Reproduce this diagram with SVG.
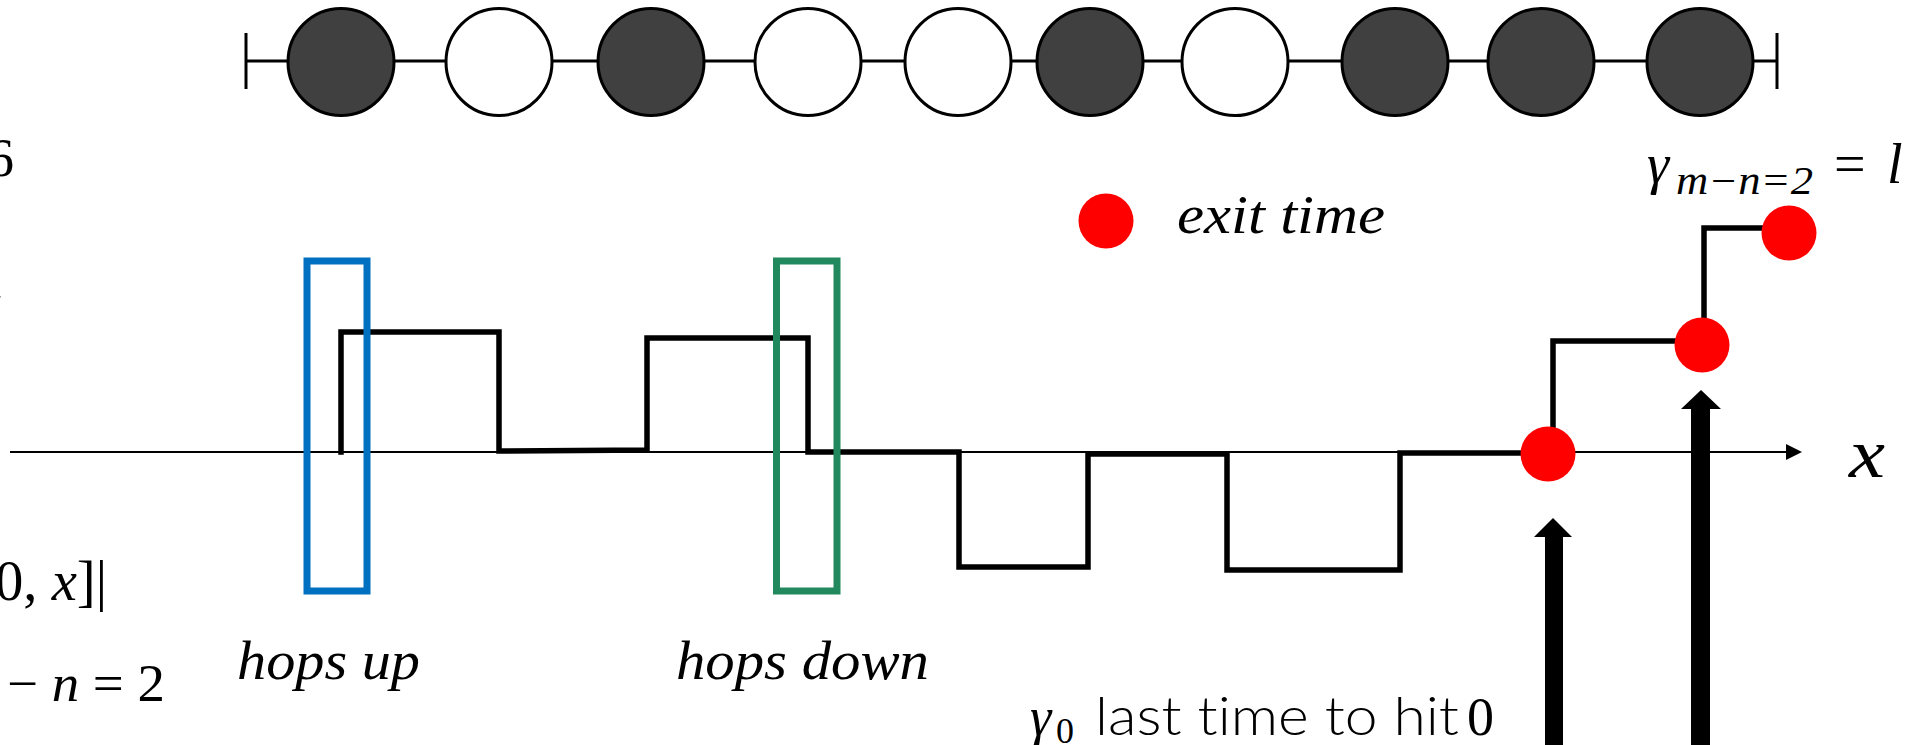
<svg xmlns="http://www.w3.org/2000/svg" width="1911" height="745" viewBox="0 0 1911 745">
  <defs>
    <style>
      .bead { stroke: #000; stroke-width: 3; }
      .dark { fill: #404040; }
      .light { fill: #fff; }
      .chain { stroke: #000; stroke-width: 3; fill: none; }
      .walk { stroke: #000; stroke-width: 5.5; fill: none; stroke-linejoin: miter; stroke-linecap: square; }
      .axis { stroke: #000; stroke-width: 2; fill: none; }
      .exit { fill: #ff0000; }
      .math { font-family: "Liberation Serif", "DejaVu Serif", serif; fill: #000; }
      .it { font-style: italic; }
      .sans { font-family: Lato, "Open Sans", sans-serif; font-weight: 300; fill: #000; font-variant-ligatures: none; }
      .pointer { fill: #000; }
    </style>
    <marker id="axisHead" viewBox="0 0 10 10" refX="0" refY="5" markerWidth="8" markerHeight="8" markerUnits="strokeWidth" orient="auto">
      <path d="M0,0 L10,5 L0,10 z" fill="#000"/>
    </marker>
  </defs>

  <!-- occupation chain -->
  <g id="chain">
    <line class="chain" x1="246" y1="61" x2="1777" y2="61"/>
    <line class="chain" x1="246" y1="33" x2="246" y2="89"/>
    <line class="chain" x1="1777" y1="33" x2="1777" y2="89"/>
  </g>
  <g id="site1"><ellipse class="bead dark" cx="341" cy="62" rx="53" ry="53.5"/></g>
  <g id="site2"><ellipse class="bead light" cx="499" cy="62" rx="53" ry="53.5"/></g>
  <g id="site3"><ellipse class="bead dark" cx="651" cy="62" rx="53" ry="53.5"/></g>
  <g id="site4"><ellipse class="bead light" cx="808" cy="62" rx="53" ry="53.5"/></g>
  <g id="site5"><ellipse class="bead light" cx="958" cy="62" rx="53" ry="53.5"/></g>
  <g id="site6"><ellipse class="bead dark" cx="1090" cy="62" rx="53" ry="53.5"/></g>
  <g id="site7"><ellipse class="bead light" cx="1235" cy="62" rx="53" ry="53.5"/></g>
  <g id="site8"><ellipse class="bead dark" cx="1395" cy="62" rx="53" ry="53.5"/></g>
  <g id="site9"><ellipse class="bead dark" cx="1541" cy="62" rx="53" ry="53.5"/></g>
  <g id="site10"><ellipse class="bead dark" cx="1700" cy="62" rx="53" ry="53.5"/></g>

  <!-- left margin labels -->
  <g id="left-labels">
    <text class="math" x="-13" y="176" font-size="54">6</text>
    <text class="math it" x="-15" y="320" font-size="52">t</text>
    <text class="math" x="-5" y="600" font-size="56" textLength="112" lengthAdjust="spacingAndGlyphs">0, <tspan class="it">x</tspan>]|</text>
    <text class="math" x="7" y="701" font-size="52" textLength="158" lengthAdjust="spacingAndGlyphs">− <tspan class="it">n</tspan> = 2</text>
  </g>

  <!-- time axis -->
  <g id="axis">
    <line class="axis" x1="10" y1="452" x2="1786" y2="452" marker-end="url(#axisHead)"/>
    <text class="math it" x="1849" y="477" font-size="70" textLength="36" lengthAdjust="spacingAndGlyphs">x</text>
  </g>

  <!-- connectors: walk trajectory and pointers -->
  <g id="connectors">
    <path class="walk" d="M341,452 V332 H499 V451 L647,450 V338 H808 V452 H959 V567 H1088 V454 H1227 V570 H1400 V453 H1548"/>
    <path class="walk" d="M1553,452 V341 H1702"/>
    <path class="walk" d="M1704,345 V228 H1789"/>
    <path class="pointer" d="M1553,518 L1572,537 L1563,537 L1563,745 L1545,745 L1545,537 L1534,537 z"/>
    <path class="pointer" d="M1701,390 L1721,409 L1710,409 L1710,745 L1691,745 L1691,409 L1681,409 z"/>
  </g>

  <!-- hop windows -->
  <g id="hops-up">
    <rect x="307" y="261" width="60" height="330" fill="none" stroke="#0070C0" stroke-width="7"/>
    <text class="math it" x="237" y="679" font-size="54" textLength="183" lengthAdjust="spacingAndGlyphs">hops up</text>
  </g>
  <g id="hops-down">
    <rect x="776.5" y="261" width="60.5" height="330" fill="none" stroke="#21895D" stroke-width="7"/>
    <text class="math it" x="676" y="679" font-size="54" textLength="253" lengthAdjust="spacingAndGlyphs">hops down</text>
  </g>

  <!-- exit times -->
  <g id="exit-legend">
    <circle class="exit" cx="1106" cy="221" r="27.5"/>
    <text class="math it" x="1177" y="233" font-size="54" textLength="208" lengthAdjust="spacingAndGlyphs">exit time</text>
  </g>
  <g id="exit0"><circle class="exit" cx="1548" cy="454" r="27.5"/></g>
  <g id="exit1"><circle class="exit" cx="1702" cy="345" r="27.5"/></g>
  <g id="exit2"><circle class="exit" cx="1789" cy="233" r="27.5"/></g>

  <g id="gamma-l">
    <text class="math" font-size="56">
      <tspan class="it" x="1647" y="183">γ</tspan>
      <tspan class="it" x="1676" y="194" font-size="40" textLength="137" lengthAdjust="spacingAndGlyphs">m−n=2</tspan>
      <tspan x="1834" y="183">=</tspan>
      <tspan class="it" x="1887" y="183">l</tspan>
    </text>
  </g>

  <g id="gamma0">
    <text class="math it" x="1030" y="735" font-size="54">γ</text>
    <text class="math" x="1056" y="743" font-size="36">0</text>
    <text class="sans" x="1095" y="735" font-size="54" textLength="364" lengthAdjust="spacingAndGlyphs">last time to hit</text>
    <text class="math" x="1467" y="735" font-size="54">0</text>
  </g>
</svg>
